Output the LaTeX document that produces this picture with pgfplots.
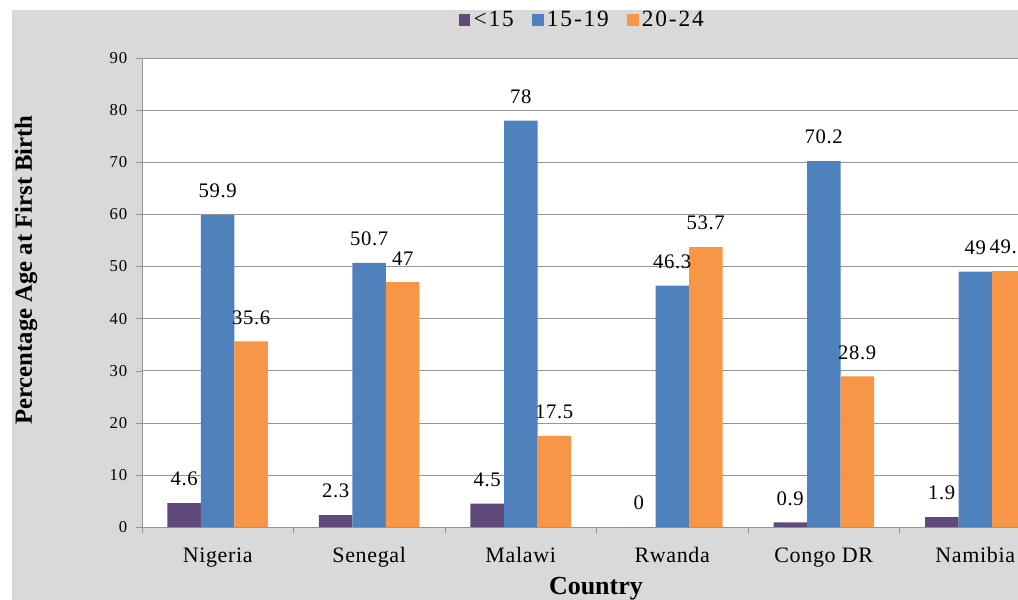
\documentclass[border=0pt]{standalone}
\usepackage{fontspec}
\setmainfont{Liberation Serif}
\newfontfamily\tickfont[LetterSpace=6]{Liberation Serif}
\newfontfamily\spaced[LetterSpace=3]{Liberation Serif}
\newfontfamily\wide[LetterSpace=8]{Liberation Serif}
\usepackage{pgfplots}
\pgfplotsset{compat=1.18}
\definecolor{cpurple}{HTML}{604A7B}
\definecolor{cblue}{HTML}{4F81BD}
\definecolor{corange}{HTML}{F79646}
\definecolor{bggray}{HTML}{D9D9D9}
\definecolor{axgray}{HTML}{969696}

\begin{document}
\begin{tikzpicture}
\fill[bggray] (-97.5pt,-54.75pt) rectangle (657pt,387.75pt);
\begin{axis}[
  at={(0,0)}, anchor=south west,
  scale only axis, width=681.75pt, height=351.75pt,
  axis background/.style={fill=white},
  ybar=0pt, bar width=25.125pt,
  xmin=-0.5, xmax=5.5, ymin=0, ymax=90,
  xtick={-0.5,0.5,...,5.5},
  x tick label as interval,
  xticklabels={Nigeria,Senegal,Malawi,Rwanda,Congo DR,Namibia},
  ytick={0,10,...,90},
  tick align=outside, major tick length=4.5pt,
  axis x line*=bottom, axis y line*=left,
  axis line style={draw=axgray},
  tick style={draw=axgray},
  ymajorgrids, grid style={draw=axgray},
  /pgf/number format/assume math mode=true,
  yticklabel style={font=\tickfont\fontsize{12.5}{14}\selectfont, xshift=-3pt},
  xticklabel style={font=\spaced\fontsize{16.5}{18}\selectfont, anchor=base, yshift=-22pt},
  ylabel={Percentage Age at First Birth},
  ylabel style={font=\fontsize{18.5}{22}\selectfont\bfseries, at={(axis description cs:-0.1276,0.548)}, anchor=center},
  xlabel={Country},
  xlabel style={font=\fontsize{19.5}{22}\selectfont\bfseries, at={(axis description cs:0.4994,-0.143)}, anchor=base},
  nodes near coords,
  every node near coord/.append style={font=\spaced\fontsize{15.5}{17}\selectfont, inner sep=0pt, anchor=south, yshift=12.5pt, text=black},
  legend columns=3,
  legend style={at={(axis description cs:0.485,1.081)}, anchor=center, draw=none, fill=none,
    font=\wide\fontsize{17.5}{20}\selectfont,
    nodes={font=\wide\fontsize{17.5}{20}\selectfont, inner sep=2.5pt},
    /tikz/every even column/.style={column sep=11pt}},
  legend image code/.code={\fill[#1] (0pt,-4.4pt) rectangle (8.8pt,4.4pt);},
]
\addplot[fill=cpurple, draw=none] coordinates {(0,4.6) (1,2.3) (2,4.5) (3,0) (4,0.9) (5,1.9)};
\addplot[fill=cblue, draw=none] coordinates {(0,59.9) (1,50.7) (2,78) (3,46.3) (4,70.2) (5,49)};
\addplot[fill=corange, draw=none] coordinates {(0,35.6) (1,47) (2,17.5) (3,53.7) (4,28.9) (5,49.1)};
\legend{\textless15, 15-19, 20-24}
\end{axis}
\pgfresetboundingbox
\path[use as bounding box] (-106.5pt,-54.75pt) rectangle (657pt,395.25pt);
\end{tikzpicture}
\end{document}
